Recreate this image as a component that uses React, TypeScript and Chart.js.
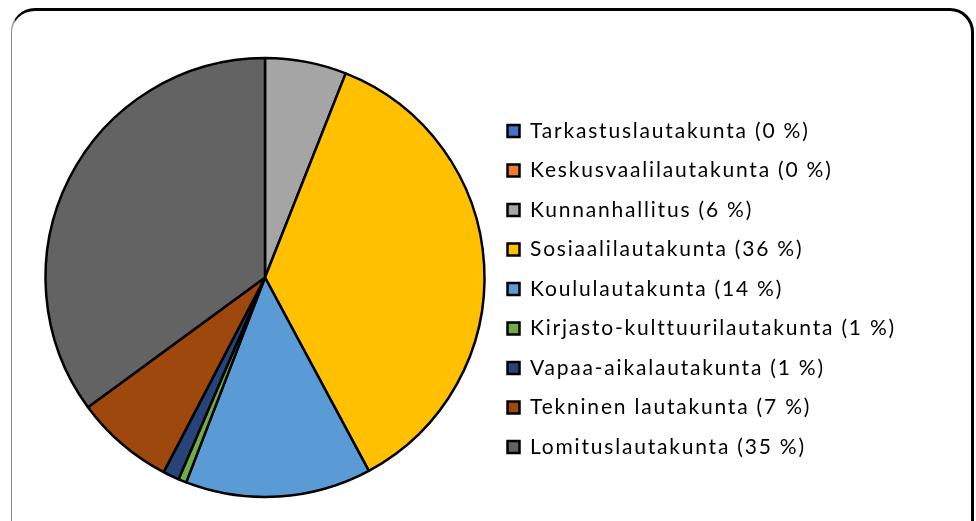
import React, { useEffect, useRef } from "react";
import { Chart, registerables } from "chart.js";

Chart.register(...registerables);

const categories = [
  "Tarkastuslautakunta",
  "Keskusvaalilautakunta",
  "Kunnanhallitus",
  "Sosiaalilautakunta",
  "Koululautakunta",
  "Kirjasto-kulttuurilautakunta",
  "Vapaa-aikalautakunta",
  "Tekninen lautakunta",
  "Lomituslautakunta",
];
const values = [0, 0, 6.0, 36.2, 13.7, 0.6, 1.2, 7.3, 35.1];
const percentLabels = ["0 %", "0 %", "6 %", "36 %", "14 %", "1 %", "1 %", "7 %", "35 %"];
const colors = [
  "#4472C4",
  "#ED7D31",
  "#A5A5A5",
  "#FFC000",
  "#5B9BD5",
  "#70AD47",
  "#264478",
  "#9E480E",
  "#636363",
];

const LETTER_SPACING = "1.8px";
const spacingPlugin = {
  id: "legendLetterSpacing",
  beforeLayout(chart: any) {
    (chart.ctx as any).letterSpacing = LETTER_SPACING;
  },
  beforeDraw(chart: any) {
    (chart.ctx as any).letterSpacing = LETTER_SPACING;
  },
};

export default function App() {
  const ref = useRef<HTMLCanvasElement | null>(null);
  useEffect(() => {
    if (!ref.current) return;
    const chart = new Chart(ref.current, {
      type: "pie",
      data: {
        labels: categories.map((c, i) => `${c} (${percentLabels[i]})`),
        datasets: [
          {
            data: values,
            backgroundColor: colors,
            borderColor: "#000000",
            borderWidth: 2.5,
          },
        ],
      },
      plugins: [spacingPlugin],
      options: {
        responsive: false,
        animation: false,
        radius: 219.5,
        layout: { padding: { top: 34, bottom: 0, left: 41, right: 70 } },
        plugins: {
          tooltip: { enabled: false },
          legend: {
            position: "right",
            align: "center",
            title: { display: true, text: " ", font: { size: 10 }, padding: { top: 5.5, bottom: 5.5 } },
            labels: {
              color: "#000000",
              boxWidth: 12,
              boxHeight: 12,
              padding: 18.5,
              font: { family: "Lato", size: 21 },
            },
          },
        },
      },
    });
    return () => chart.destroy();
  }, []);
  return (
    <div style={{ position: "fixed", left: 0, top: 0, width: 976, height: 521, background: "#fff", overflow: "hidden" }}>
      <div
        style={{
          position: "absolute",
          left: 11,
          top: 8,
          width: 963,
          height: 620,
          borderTop: "3px solid #000",
          borderRight: "3px solid #000",
          borderLeft: "1.5px solid #888",
          borderRadius: 24,
          boxSizing: "border-box",
        }}
      />
      <canvas ref={ref} width={976} height={521} style={{ position: "absolute", left: 0, top: 0 }} />
    </div>
  );
}
